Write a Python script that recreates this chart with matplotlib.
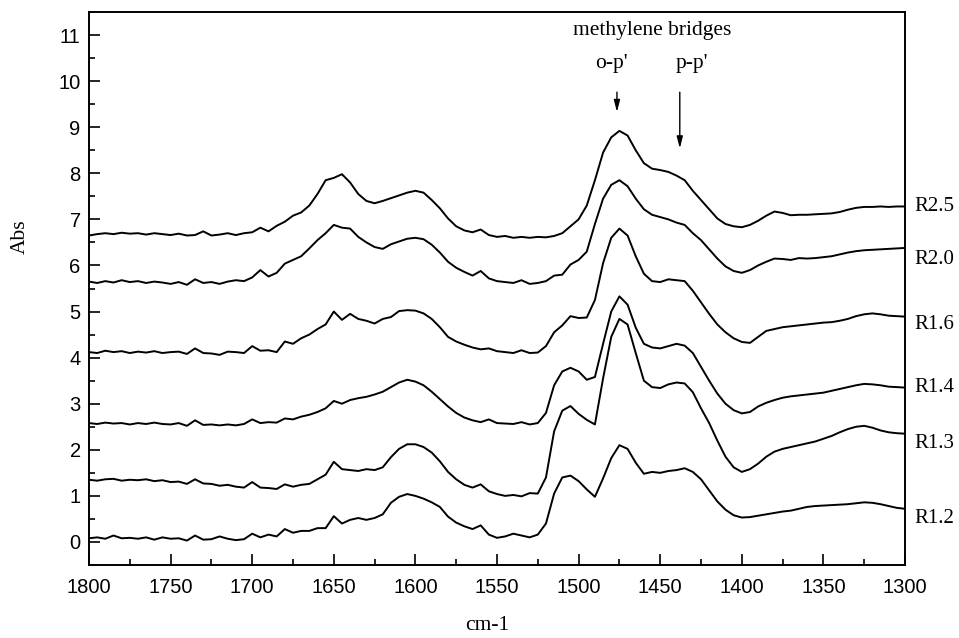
import numpy as np
import matplotlib
matplotlib.use("Agg")
import matplotlib.pyplot as plt
from matplotlib.ticker import MultipleLocator

# wavenumber grid, 1800 -> 1300 cm-1 in 5 cm-1 steps
wavenumber = np.arange(1800, 1299, -5)

# absorbance traces (already offset for stacking), rows of 10 points
r25 = [
    6.65, 6.68, 6.70, 6.68, 6.71, 6.69, 6.70, 6.67, 6.70, 6.68,
    6.66, 6.69, 6.65, 6.66, 6.74, 6.65, 6.67, 6.70, 6.66, 6.70,
    6.72, 6.82, 6.74, 6.86, 6.95, 7.08, 7.15, 7.30, 7.55, 7.85,
    7.90, 7.98, 7.80, 7.55, 7.40, 7.35, 7.40, 7.46, 7.52, 7.58,
    7.62, 7.58, 7.42, 7.24, 7.02, 6.85, 6.76, 6.72, 6.78, 6.66,
    6.62, 6.64, 6.60, 6.62, 6.60, 6.62, 6.61, 6.64, 6.70, 6.85,
    7.00, 7.30, 7.85, 8.45, 8.78, 8.92, 8.82, 8.50, 8.22, 8.10,
    8.07, 8.03, 7.95, 7.85, 7.62, 7.42, 7.22, 7.02, 6.90, 6.85,
    6.83, 6.88, 6.97, 7.08, 7.17, 7.14, 7.09, 7.10, 7.10, 7.11,
    7.12, 7.13, 7.16, 7.21, 7.25, 7.27, 7.27, 7.28, 7.27, 7.28,
    7.28,
]
r20 = [
    5.65, 5.62, 5.66, 5.63, 5.68, 5.64, 5.66, 5.62, 5.65, 5.63,
    5.60, 5.64, 5.58, 5.70, 5.62, 5.64, 5.60, 5.65, 5.68, 5.66,
    5.74, 5.90, 5.76, 5.84, 6.04, 6.12, 6.20, 6.37, 6.55, 6.70,
    6.88, 6.82, 6.80, 6.62, 6.50, 6.40, 6.36, 6.46, 6.52, 6.58,
    6.60, 6.57, 6.45, 6.28, 6.08, 5.95, 5.86, 5.78, 5.88, 5.72,
    5.66, 5.64, 5.62, 5.68, 5.60, 5.62, 5.66, 5.78, 5.80, 6.02,
    6.12, 6.30, 6.90, 7.45, 7.75, 7.85, 7.72, 7.45, 7.22, 7.10,
    7.05, 7.00, 6.93, 6.88, 6.70, 6.55, 6.35, 6.15, 5.98, 5.88,
    5.84, 5.90, 6.00, 6.08, 6.15, 6.14, 6.12, 6.16, 6.15, 6.16,
    6.18, 6.20, 6.24, 6.28, 6.31, 6.33, 6.34, 6.35, 6.36, 6.37,
    6.38,
]
r16 = [
    4.12, 4.10, 4.15, 4.12, 4.14, 4.10, 4.13, 4.11, 4.14, 4.10,
    4.12, 4.13, 4.08, 4.20, 4.10, 4.09, 4.06, 4.13, 4.12, 4.10,
    4.25, 4.15, 4.16, 4.12, 4.35, 4.30, 4.42, 4.50, 4.62, 4.72,
    5.00, 4.82, 4.95, 4.84, 4.80, 4.74, 4.84, 4.88, 5.01, 5.03,
    5.02, 4.96, 4.84, 4.66, 4.45, 4.35, 4.28, 4.22, 4.18, 4.20,
    4.14, 4.12, 4.10, 4.16, 4.10, 4.11, 4.25, 4.55, 4.70, 4.90,
    4.86, 4.87, 5.25, 6.05, 6.60, 6.80, 6.65, 6.20, 5.82, 5.66,
    5.64, 5.70, 5.68, 5.66, 5.45, 5.20, 4.95, 4.72, 4.55, 4.42,
    4.34, 4.32, 4.45, 4.58, 4.62, 4.66, 4.68, 4.70, 4.72, 4.74,
    4.76, 4.77, 4.80, 4.84, 4.90, 4.94, 4.96, 4.94, 4.91, 4.90,
    4.89,
]
r14 = [
    2.58, 2.56, 2.59, 2.57, 2.58, 2.55, 2.58, 2.56, 2.59, 2.56,
    2.55, 2.58, 2.52, 2.64, 2.54, 2.55, 2.53, 2.55, 2.53, 2.56,
    2.66, 2.58, 2.60, 2.59, 2.68, 2.66, 2.72, 2.76, 2.82, 2.90,
    3.06, 3.00, 3.08, 3.12, 3.15, 3.20, 3.26, 3.36, 3.46, 3.52,
    3.48, 3.40, 3.26, 3.10, 2.94, 2.80, 2.70, 2.64, 2.60, 2.66,
    2.58, 2.57, 2.56, 2.60, 2.55, 2.58, 2.80, 3.40, 3.70, 3.78,
    3.70, 3.52, 3.58, 4.30, 5.00, 5.33, 5.15, 4.65, 4.30, 4.22,
    4.20, 4.25, 4.30, 4.26, 4.10, 3.80, 3.50, 3.22, 3.00, 2.86,
    2.79, 2.82, 2.94, 3.02, 3.08, 3.13, 3.16, 3.18, 3.20, 3.22,
    3.24, 3.28, 3.32, 3.36, 3.40, 3.43, 3.42, 3.40, 3.37, 3.36,
    3.35,
]
r13 = [
    1.35, 1.33, 1.36, 1.37, 1.33, 1.35, 1.34, 1.36, 1.32, 1.34,
    1.30, 1.31, 1.26, 1.36, 1.27, 1.26, 1.22, 1.24, 1.20, 1.18,
    1.30, 1.18, 1.17, 1.15, 1.25, 1.20, 1.24, 1.26, 1.36, 1.46,
    1.74, 1.58, 1.56, 1.54, 1.58, 1.56, 1.62, 1.84, 2.02, 2.12,
    2.12, 2.06, 1.94, 1.75, 1.52, 1.36, 1.24, 1.18, 1.25, 1.10,
    1.04, 1.00, 1.02, 0.99, 1.06, 1.05, 1.40, 2.40, 2.85, 2.95,
    2.78, 2.65, 2.55, 3.55, 4.45, 4.84, 4.72, 4.10, 3.50, 3.36,
    3.34, 3.42, 3.46, 3.44, 3.25, 2.90, 2.58, 2.20, 1.85, 1.62,
    1.52, 1.58, 1.70, 1.85, 1.96, 2.02, 2.06, 2.10, 2.14, 2.18,
    2.24, 2.30, 2.38, 2.45, 2.50, 2.52, 2.48, 2.42, 2.38, 2.36,
    2.35,
]
r12 = [
    0.08, 0.10, 0.07, 0.14, 0.08, 0.09, 0.07, 0.10, 0.05, 0.10,
    0.07, 0.08, 0.03, 0.14, 0.05, 0.06, 0.12, 0.07, 0.04, 0.06,
    0.18, 0.10, 0.16, 0.12, 0.28, 0.20, 0.24, 0.24, 0.30, 0.30,
    0.56, 0.40, 0.48, 0.52, 0.48, 0.52, 0.60, 0.85, 0.98, 1.04,
    1.00, 0.94, 0.86, 0.76, 0.55, 0.42, 0.34, 0.28, 0.36, 0.16,
    0.09, 0.12, 0.18, 0.14, 0.10, 0.16, 0.40, 1.05, 1.40, 1.44,
    1.32, 1.14, 0.98, 1.38, 1.82, 2.10, 2.02, 1.72, 1.48, 1.52,
    1.50, 1.54, 1.56, 1.60, 1.52, 1.36, 1.12, 0.88, 0.70, 0.58,
    0.53, 0.54, 0.57, 0.60, 0.63, 0.66, 0.68, 0.72, 0.76, 0.78,
    0.79, 0.80, 0.81, 0.82, 0.84, 0.86, 0.85, 0.82, 0.78, 0.74,
    0.72,
]

series = [r25, r20, r16, r14, r13, r12]
labels = ["R2.5", "R2.0", "R1.6", "R1.4", "R1.3", "R1.2"]
label_drop = [0, -8, -6, 0, -7, -7]  # points, nudges the end labels

SANS = "Liberation Sans"
SERIF = "Liberation Serif"

fig = plt.figure(figsize=(9.59, 6.38), dpi=100)
ax = fig.add_axes([0.0928, 0.1144, 0.8509, 0.8668])

for values, name, drop in zip(series, labels, label_drop):
    ax.plot(wavenumber, values, color="black", lw=1.4, solid_joinstyle="round")
    ax.annotate(name, xy=(wavenumber[-1], values[-1]), xytext=(7, drop),
                textcoords="offset points", va="center", ha="left",
                family=SERIF, fontsize=15, annotation_clip=False)

ax.set_xlim(1800, 1300)
ax.set_ylim(-0.5, 11.5)
ax.xaxis.set_major_locator(MultipleLocator(50))
ax.xaxis.set_minor_locator(MultipleLocator(25))
ax.yaxis.set_major_locator(MultipleLocator(1))
ax.yaxis.set_minor_locator(MultipleLocator(0.5))
ax.tick_params(which="both", direction="in", top=False, right=False, width=1.2)
ax.tick_params(which="major", length=8)
ax.tick_params(which="minor", length=4)
ax.tick_params(axis="x", pad=9)
ax.tick_params(axis="y", pad=6)
for lab in ax.get_xticklabels() + ax.get_yticklabels():
    lab.set_family(SANS)
    lab.set_fontsize(14.5)
for sp in ax.spines.values():
    sp.set_linewidth(1.4)

ax.set_xlabel("cm-1", family=SERIF, fontsize=15.5)
ax.xaxis.set_label_coords(0.488, -0.092)
ax.set_ylabel("Abs", family=SERIF, fontsize=15.5)
ax.yaxis.set_label_coords(-0.072, 0.593)

# band assignments for the methylene bridges
ax.text(1455, 11.1, "methylene bridges", family=SERIF, fontsize=15.5,
        ha="center", va="center")
ax.text(1480, 10.39, "o-p'", family=SERIF, fontsize=15.5, ha="center", va="center")
ax.text(1430.5, 10.39, "p-p'", family=SERIF, fontsize=15.5, ha="center", va="center")
arrow = dict(arrowstyle="-|>,head_width=0.18,head_length=0.7", color="black", lw=1.0,
             shrinkA=0, shrinkB=0)
ax.annotate("", xy=(1476.5, 9.33), xytext=(1476.5, 9.76), arrowprops=arrow)
ax.annotate("", xy=(1438, 8.54), xytext=(1438, 9.76), arrowprops=arrow)

fig.savefig("out.png", dpi=100)
